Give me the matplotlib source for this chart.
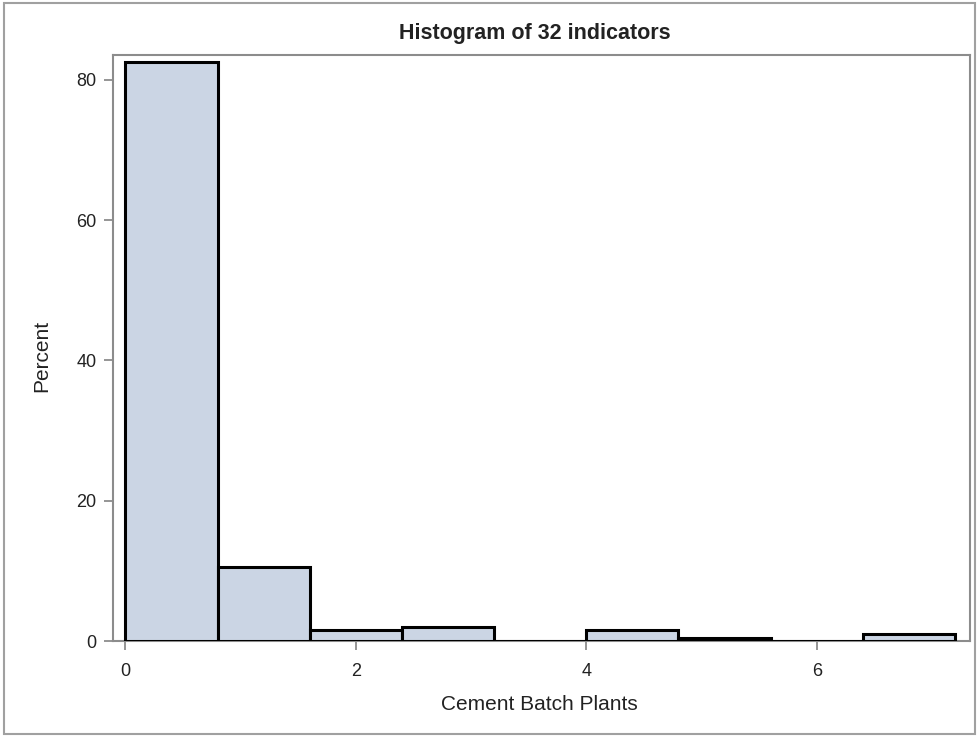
import matplotlib
matplotlib.use("Agg")
import matplotlib.pyplot as plt
from matplotlib.patches import Rectangle

plt.rcParams['font.family'] = ['Liberation Sans', 'DejaVu Sans']

# histogram bins (left edges), width and percent per bin
bin_left = [0.0, 0.8, 1.6, 2.4, 3.2, 4.0, 4.8, 5.6, 6.4]
bin_width = 0.8
percent = [82.5, 10.6, 1.5, 2.0, 0.0, 1.5, 0.45, 0.0, 1.05]

x_ticks = [0, 2, 4, 6]
y_ticks = [0, 20, 40, 60, 80]

fig = plt.figure(figsize=(9.77, 7.36), dpi=100)
ax = fig.add_axes([113/977, 1 - 641/736, (970-113)/977, (641-55)/736])

ax.bar(bin_left, percent, width=bin_width, align='edge',
       color='#cbd5e4', edgecolor='black', linewidth=2.2, zorder=3)

ax.set_xlim(-0.108, 7.33)
ax.set_ylim(0, 83.56)
ax.set_xticks(x_ticks)
ax.set_yticks(y_ticks)
for s in ax.spines.values():
    s.set_color('#8c8c8c')
    s.set_linewidth(1.5)
ax.tick_params(colors='#8c8c8c', labelcolor='#222222', labelsize=13,
               length=6.5, width=1.3)
ax.tick_params(axis='x', pad=9)
ax.tick_params(axis='y', pad=5.5)

ax.set_xlabel('Cement Batch Plants', fontsize=15, color='#222222')
ax.xaxis.set_label_coords(0.497, -0.092)
ax.set_ylabel('Percent', fontsize=15, color='#222222')
ax.yaxis.set_label_coords(-0.072, 0.486)
fig.text(535/977, 1 - 33/736, 'Histogram of 32 indicators', ha='center',
         va='center', fontsize=15.5, fontweight='bold', color='#222222')

fig.patches.append(Rectangle((4/977, 2/736), 971/977, 731/736,
                             transform=fig.transFigure, fill=False,
                             edgecolor='#a0a0a0', linewidth=1.5))

fig.savefig('out.png', dpi=100)
